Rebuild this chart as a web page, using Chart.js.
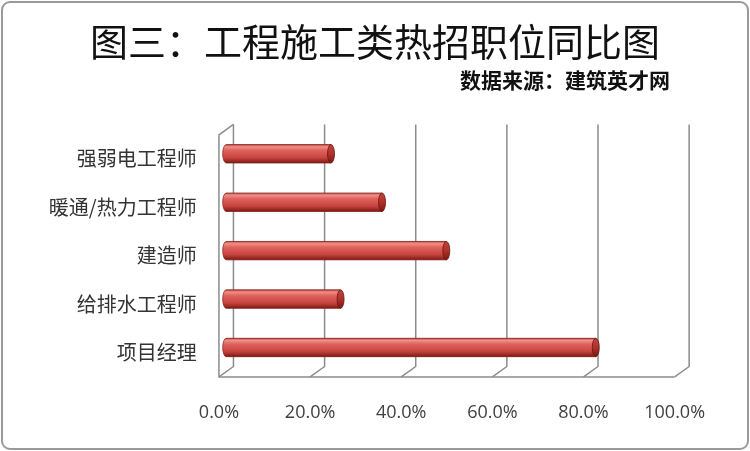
<!DOCTYPE html>
<html>
<head>
<meta charset="utf-8">
<script src="https://cdn.jsdelivr.net/npm/chart.js@4/dist/chart.umd.min.js"></script>
<style>
  html, body { margin: 0; padding: 0; background: #ffffff; }
  canvas { display: block; }
</style>
</head>
<body>
<canvas id="c" width="750" height="451"></canvas>
<script>
// ---- data ----
const categories = ['强弱电工程师', '暖通/热力工程师', '建造师', '给排水工程师', '项目经理'];
const shares = [0.230, 0.342, 0.483, 0.251, 0.811];
const titleText = '图三：工程施工类热招职位同比图';
const sourceText = '数据来源：建筑英才网';
const tickMin = 0, tickMax = 1, tickStep = 0.2;

// ---- 3D look helpers ----
const DEPTH_DX = 7.25, DEPTH_DY = 5.2;
const CJK = '"Noto Sans CJK SC", "Noto Sans", sans-serif';

const framePlugin = {
  id: 'frame3d',
  beforeDraw(chart) {
    const ctx = chart.ctx;
    ctx.save();
    ctx.strokeStyle = '#9a9a9a';
    ctx.lineWidth = 2;
    const r = 8, x = 2, y = 2, w = chart.width - 4, h = chart.height - 4;
    ctx.beginPath();
    ctx.moveTo(x + r, y);
    ctx.arcTo(x + w, y, x + w, y + h, r);
    ctx.arcTo(x + w, y + h, x, y + h, r);
    ctx.arcTo(x, y + h, x, y, r);
    ctx.arcTo(x, y, x + w, y, r);
    ctx.closePath();
    ctx.stroke();
    ctx.restore();
  },
  beforeDatasetsDraw(chart) {
    const ctx = chart.ctx, xs = chart.scales.x, ca = chart.chartArea;
    const dx = DEPTH_DX, dy = DEPTH_DY;
    const px = xs.ticks.map(t => xs.getPixelForValue(t.value));
    ctx.save();
    ctx.strokeStyle = '#8c8c8c';
    ctx.lineWidth = 1.5;
    ctx.lineJoin = 'round';
    px.forEach(xm => {
      ctx.beginPath();
      ctx.moveTo(xm + dx, ca.top - dy);
      ctx.lineTo(xm + dx, ca.bottom - dy);
      ctx.lineTo(xm - dx, ca.bottom + dy);
      ctx.stroke();
    });
    const x0 = px[0], xl = px[px.length - 1];
    ctx.beginPath();
    ctx.moveTo(xl - dx, ca.bottom + dy);
    ctx.lineTo(x0 - dx, ca.bottom + dy);
    ctx.lineTo(x0 - dx, ca.top + dy);
    ctx.lineTo(x0 + dx, ca.top - dy);
    ctx.stroke();
    ctx.restore();
  },
  afterDatasetsDraw(chart) {
    const ctx = chart.ctx;
    const meta = chart.getDatasetMeta(0);
    meta.data.forEach(bar => {
      const p = bar.getProps(['x', 'y', 'base', 'height'], true);
      const top = p.y - p.height / 2, bot = p.y + p.height / 2;
      const rx = 3.5, ry = p.height / 2;
      const g = ctx.createLinearGradient(0, top, 0, bot);
      g.addColorStop(0, '#c0504a');
      g.addColorStop(0.12, '#ee8f88');
      g.addColorStop(0.32, '#de625b');
      g.addColorStop(0.7, '#c9453f');
      g.addColorStop(0.9, '#9a2823');
      g.addColorStop(1, '#6e1612');
      ctx.save();
      // body with left rounded cap
      ctx.beginPath();
      ctx.moveTo(p.x, top);
      ctx.lineTo(p.base, top);
      ctx.ellipse(p.base, p.y, rx, ry, 0, -Math.PI / 2, Math.PI / 2, true);
      ctx.lineTo(p.x, bot);
      ctx.closePath();
      ctx.fillStyle = g;
      ctx.fill();
      ctx.strokeStyle = '#8a2a25';
      ctx.lineWidth = 0.8;
      ctx.stroke();
      // right end cap
      const g2 = ctx.createLinearGradient(0, top, 0, bot);
      g2.addColorStop(0, '#c2443d');
      g2.addColorStop(0.5, '#b0302a');
      g2.addColorStop(1, '#7a1a16');
      ctx.beginPath();
      ctx.ellipse(p.x, p.y, rx, ry, 0, 0, Math.PI * 2);
      ctx.fillStyle = g2;
      ctx.fill();
      ctx.strokeStyle = '#6a1612';
      ctx.lineWidth = 0.8;
      ctx.stroke();
      ctx.restore();
    });
  },
  afterDraw(chart) {
    const ctx = chart.ctx;
    ctx.save();
    ctx.font = 'bold 21px ' + CJK;
    ctx.fillStyle = '#111111';
    ctx.textAlign = 'right';
    ctx.textBaseline = 'middle';
    ctx.fillText(sourceText, 670, 80);
    ctx.restore();
  }
};

new Chart(document.getElementById('c'), {
  type: 'bar',
  data: {
    labels: categories,
    datasets: [{
      data: shares,
      backgroundColor: '#c9453f',
      borderWidth: 0,
      barPercentage: 0.38,
      categoryPercentage: 1.0
    }]
  },
  options: {
    indexAxis: 'y',
    responsive: false,
    animation: false,
    layout: { padding: 0 },
    plugins: {
      legend: { display: false },
      tooltip: { enabled: false },
      title: {
        display: true,
        text: titleText,
        color: '#111111',
        font: { family: CJK, size: 38, weight: 'normal', lineHeight: 1.2 },
        padding: { top: 19, bottom: 65 }
      }
    },
    scales: {
      x: {
        type: 'linear',
        min: tickMin,
        max: tickMax,
        grid: { display: false, drawTicks: false },
        border: { display: false },
        ticks: {
          stepSize: tickStep,
          labelOffset: -DEPTH_DX,
          padding: 30,
          color: '#404040',
          font: { family: '"Open Sans", sans-serif', size: 18 },
          callback: v => (v * 100).toFixed(1) + '%'
        },
        afterFit(s) { s.height = 79.3; }
      },
      y: {
        type: 'category',
        position: 'left',
        grid: { display: false, drawTicks: false },
        border: { display: false },
        ticks: {
          padding: 29.5,
          labelOffset: 5,
          color: '#333333',
          font: { family: CJK, size: 20 }
        },
        afterFit(s) { s.width = 226.2; }
      },
      yRight: {
        type: 'category',
        position: 'right',
        display: true,
        grid: { display: false, drawTicks: false },
        border: { display: false },
        ticks: { display: false },
        afterFit(s) { s.width = 68.1; }
      }
    }
  },
  plugins: [framePlugin]
});
</script>
</body>
</html>
